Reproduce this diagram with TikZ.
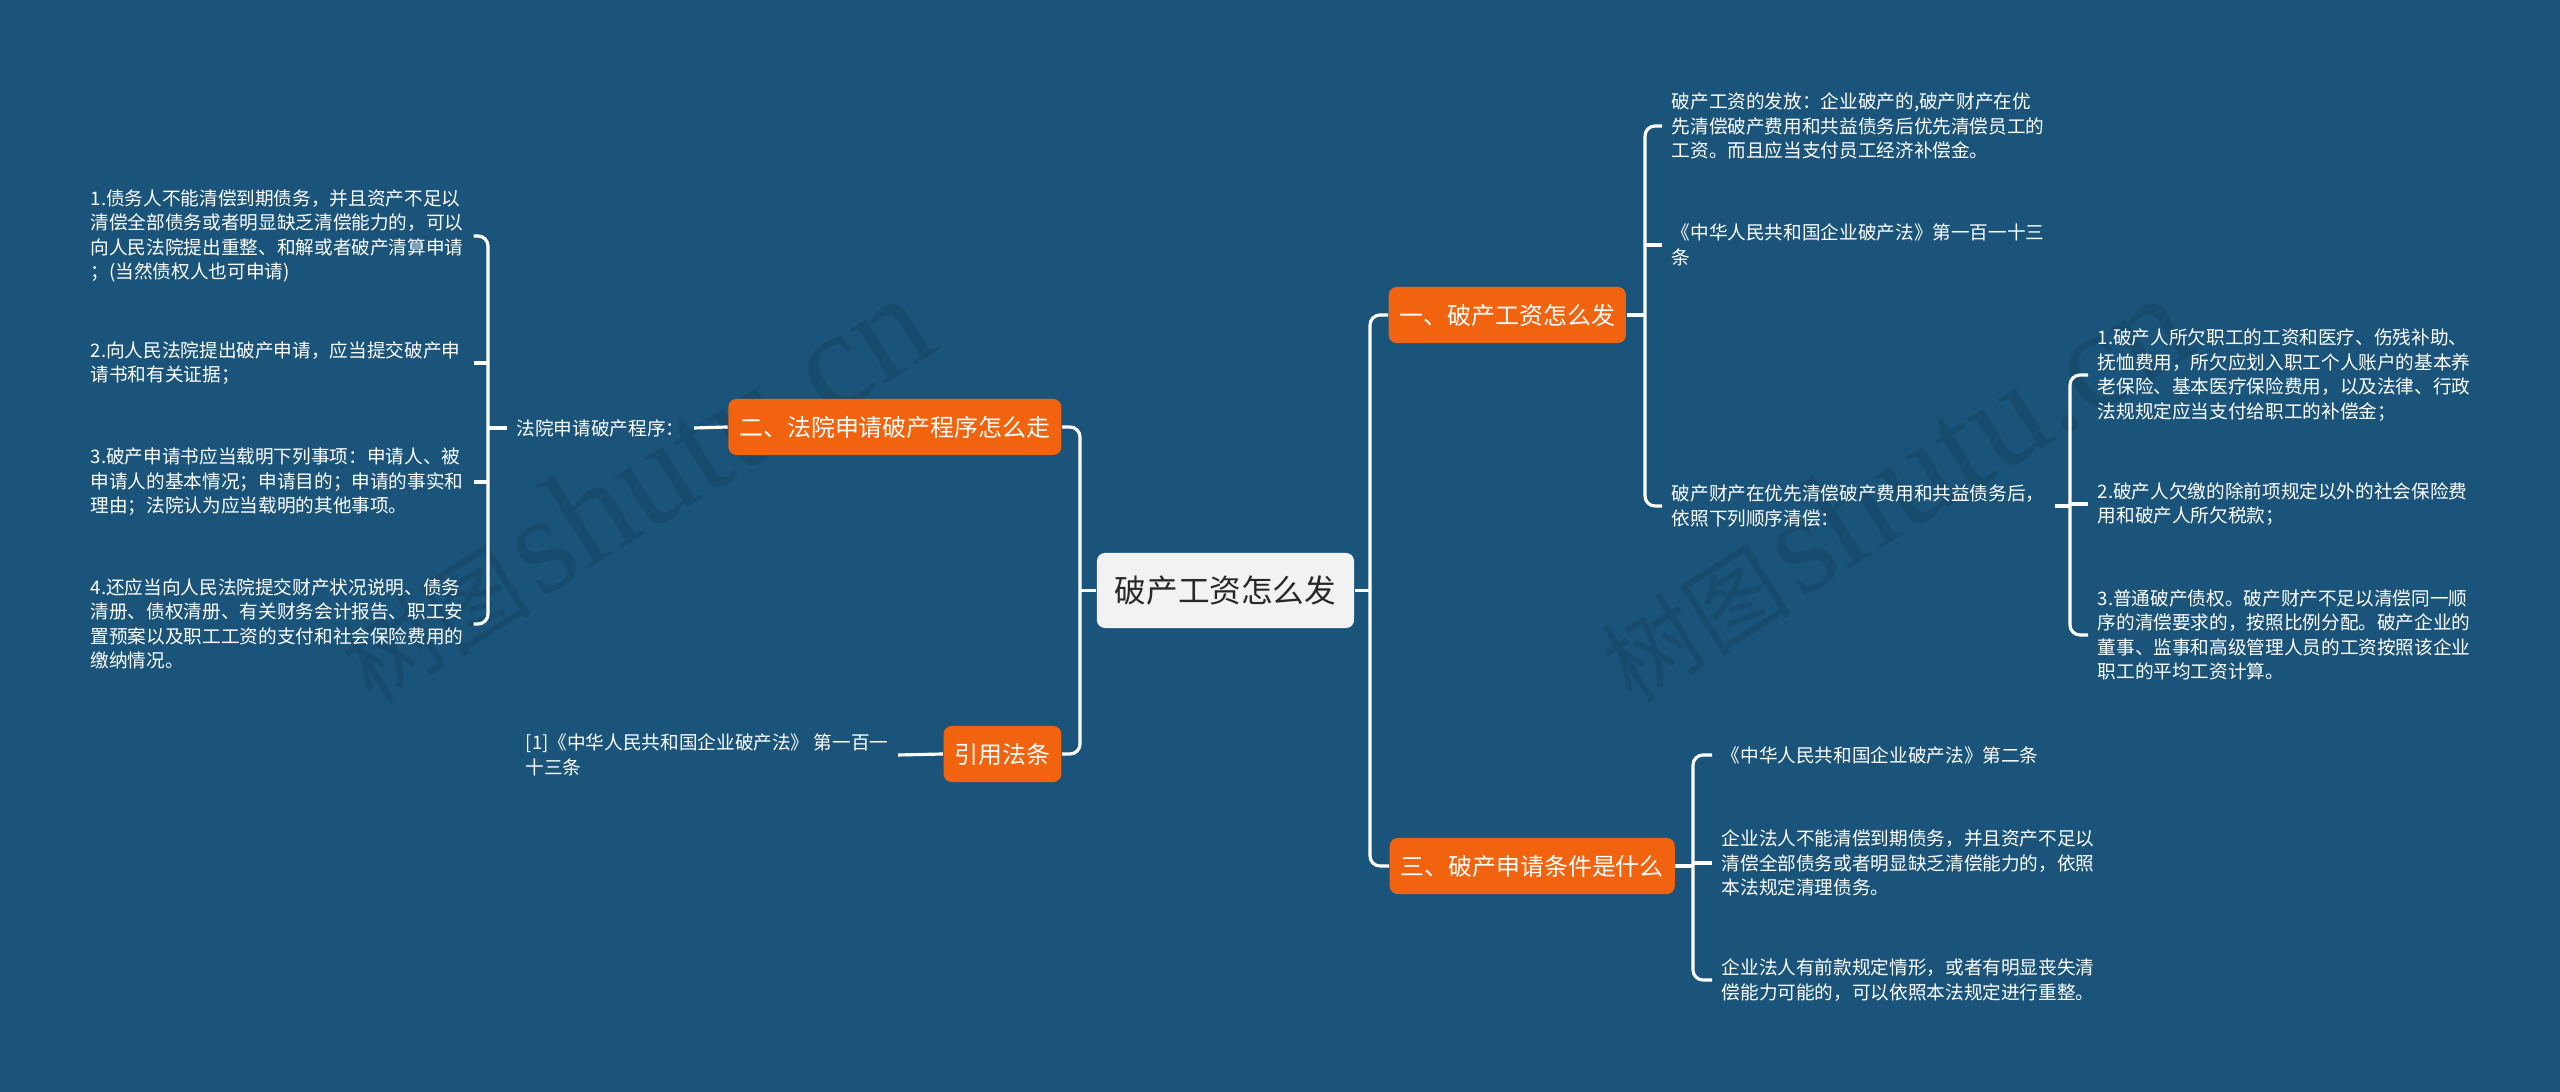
\documentclass[tikz,border=0pt]{standalone}
\usepackage{fontspec}
\setmainfont{Noto Sans CJK SC}
\newfontfamily\wmlatin{Liberation Serif}
\definecolor{bgc}{RGB}{27,84,122}
\definecolor{orng}{RGB}{241,99,14}
\definecolor{ctrfill}{RGB}{242,242,242}
\definecolor{ctrtext}{RGB}{40,40,40}
\definecolor{wmc}{RGB}{24,76,111}
\begin{document}
\begin{tikzpicture}[x=0.01cm,y=-0.01cm,
  conn/.style={draw=white, line width=0.9pt, rounded corners=1mm},
  txt/.style={font=\fontsize{5.3pt}{6.95pt}\selectfont, text=white, align=left, inner xsep=0.9mm, inner ysep=0.5mm},
  topic/.style={fill=orng, rounded corners=0.8mm, text=white, font=\fontsize{6.8pt}{8pt}\selectfont, inner xsep=1.1mm, minimum height=0.56cm},
  root/.style={fill=ctrfill, rounded corners=0.8mm, text=ctrtext, font=\fontsize{9pt}{11pt}\selectfont, minimum width=2.57cm, minimum height=0.75cm},
  wm/.style={text=wmc, rotate=32, anchor=base west, inner sep=0pt}]
\useasboundingbox (0,0) rectangle (2560,1092);
\fill[bgc] (0,0) rectangle (2560,1092);
% watermarks
\node[wm] (wm1) at (372,705) {{\fontsize{27pt}{27pt}\selectfont 树图} {\wmlatin\fontsize{40pt}{40pt}\selectfont shutu.cn}};
\node[wm] (wm2) at (1632,705) {{\fontsize{27pt}{27pt}\selectfont 树图} {\wmlatin\fontsize{40pt}{40pt}\selectfont shutu.cn}};
% main nodes
\node[root] (c) at (1225.5,590.5) {破产工资怎么发};
\node[topic, anchor=west] (t1) at (1388,315) {一、破产工资怎么发};
\node[topic, anchor=west] (t3) at (1389,866) {三、破产申请条件是什么};
\node[topic, anchor=east] (t2) at (1062,427) {二、法院申请破产程序怎么走};
\node[topic, anchor=east] (t4) at (1062,754) {引用法条};
% branch 1
\node[txt, anchor=west] (a1) at (1662,126) {破产工资的发放：企业破产的,破产财产在优\\先清偿破产费用和共益债务后优先清偿员工的\\工资。而且应当支付员工经济补偿金。};
\node[txt, anchor=west] (a2) at (1662,245) {《中华人民共和国企业破产法》第一百一十三\\条};
\node[txt, anchor=west, text width=3.73cm] (a3) at (1662,506) {破产财产在优先清偿破产费用和共益债务后，\\依照下列顺序清偿：};
\node[txt, anchor=west] (b1) at (2088,375) {1.破产人所欠职工的工资和医疗、伤残补助、\\抚恤费用，所欠应划入职工个人账户的基本养\\老保险、基本医疗保险费用，以及法律、行政\\法规规定应当支付给职工的补偿金；};
\node[txt, anchor=west] (b2) at (2088,504) {2.破产人欠缴的除前项规定以外的社会保险费\\用和破产人所欠税款；};
\node[txt, anchor=west] (b3) at (2088,635) {3.普通破产债权。破产财产不足以清偿同一顺\\序的清偿要求的，按照比例分配。破产企业的\\董事、监事和高级管理人员的工资按照该企业\\职工的平均工资计算。};
% branch 3
\node[txt, anchor=west] (d1) at (1712,755) {《中华人民共和国企业破产法》第二条};
\node[txt, anchor=west] (d2) at (1712,863) {企业法人不能清偿到期债务，并且资产不足以\\清偿全部债务或者明显缺乏清偿能力的，依照\\本法规定清理债务。};
\node[txt, anchor=west] (d3) at (1712,980) {企业法人有前款规定情形，或者有明显丧失清\\偿能力可能的，可以依照本法规定进行重整。};
% branch 2
\node[txt, anchor=west] (p0) at (507,428) {法院申请破产程序：};
\node[txt, anchor=west, text width=3.73cm] (q1) at (81,236) {1.债务人不能清偿到期债务，并且资产不足以\\清偿全部债务或者明显缺乏清偿能力的，可以\\向人民法院提出重整、和解或者破产清算申请\\；(当然债权人也可申请)};
\node[txt, anchor=west, text width=3.73cm] (q2) at (81,363) {2.向人民法院提出破产申请，应当提交破产申\\请书和有关证据；};
\node[txt, anchor=west, text width=3.73cm] (q3) at (81,482) {3.破产申请书应当载明下列事项：申请人、被\\申请人的基本情况；申请目的；申请的事实和\\理由；法院认为应当载明的其他事项。};
\node[txt, anchor=west, text width=3.73cm] (q4) at (81,624) {4.还应当向人民法院提交财产状况说明、债务\\清册、债权清册、有关财务会计报告、职工安\\置预案以及职工工资的支付和社会保险费用的\\缴纳情况。};
% branch 4
\node[txt, anchor=west] (r1) at (516,755) {[1]《中华人民共和国企业破产法》 第一百一\\十三条};
% bracket x positions
\coordinate (xR) at (1370,0);
\coordinate (xL) at (1080,0);
\coordinate (x1) at (1645,0);
\coordinate (x2) at (2070,0);
\coordinate (x3) at (1693,0);
\coordinate (x4) at (488,0);
% connectors
\draw[conn] (c.east) -- (c.east -| xR);
\draw[conn] (t1.west) -- (t1.west -| xR) -- (t3.west -| xR) -- (t3.west);
\draw[conn] (c.west) -- (c.west -| xL);
\draw[conn] (t2.east) -- (t2.east -| xL) -- (t4.east -| xL) -- (t4.east);
\draw[conn] (t1.east) -- (t1.east -| x1);
\draw[conn] (a1.west) -- (a1.west -| x1) -- (a3.west -| x1) -- (a3.west);
\draw[conn] (a2.west -| x1) -- (a2.west);
\draw[conn] (a3.east) -- (a3.east -| x2);
\draw[conn] (b1.west) -- (b1.west -| x2) -- (b3.west -| x2) -- (b3.west);
\draw[conn] (b2.west -| x2) -- (b2.west);
\draw[conn] (t3.east) -- (t3.east -| x3);
\draw[conn] (d1.west) -- (d1.west -| x3) -- (d3.west -| x3) -- (d3.west);
\draw[conn] (d2.west -| x3) -- (d2.west);
\draw[conn] (t2.west) -- (p0.east);
\draw[conn] (p0.west) -- (p0.west -| x4);
\draw[conn] (q1.east) -- (q1.east -| x4) -- (q4.east -| x4) -- (q4.east);
\draw[conn] (q2.east -| x4) -- (q2.east);
\draw[conn] (q3.east -| x4) -- (q3.east);
\draw[conn] (t4.west) -- (r1.east);
\end{tikzpicture}
\end{document}
